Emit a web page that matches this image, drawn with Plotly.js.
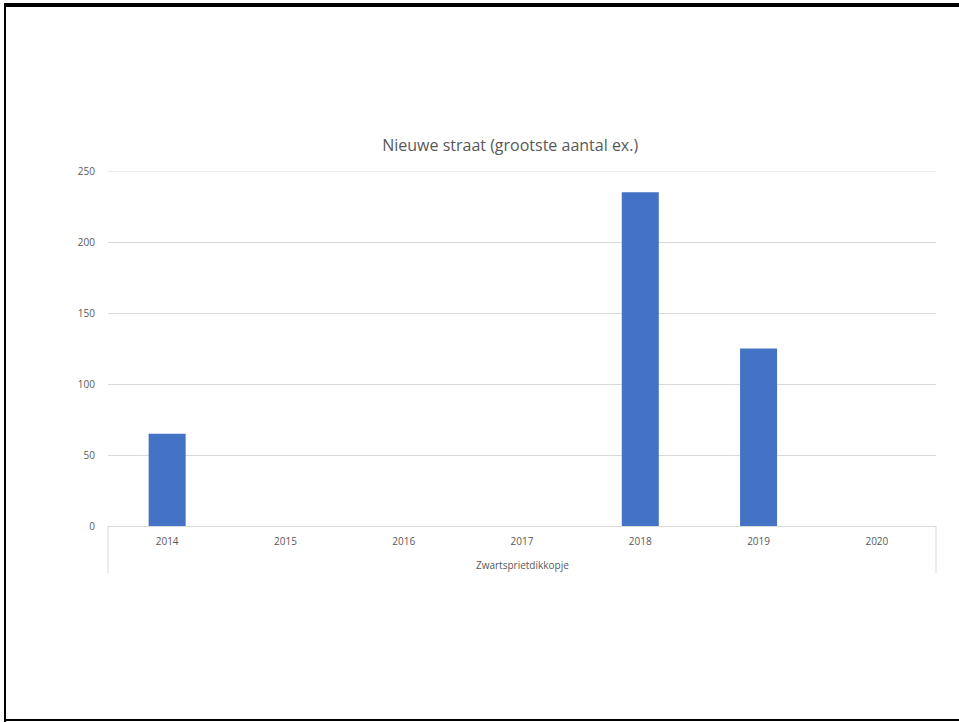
<!DOCTYPE html>
<html>
<head>
<meta charset="utf-8">
<script src="https://cdn.plot.ly/plotly-3.0.1.min.js"></script>
<style>
html,body{margin:0;padding:0;background:#fff;}
#wrap{position:relative;width:959px;height:722px;overflow:hidden;}
#chart{position:absolute;left:0;top:0;width:959px;height:722px;}
.b{position:absolute;background:#000;}
</style>
</head>
<body>
<div id="wrap">
<div id="chart"></div>
<div class="b" style="left:4px;top:3px;width:955px;height:4px;"></div>
<div class="b" style="left:4px;top:3px;width:2px;height:719px;"></div>
<div class="b" style="left:4px;top:719px;width:955px;height:2px;"></div>
</div>
<script>
var groupName = "Zwartsprietdikkopje";
var years = ["2014", "2015", "2016", "2017", "2018", "2019", "2020"];
var counts = [65, null, null, null, 235, 125, null];
var chartTitle = "Nieuwe straat (grootste aantal ex.)";
var yTicks = [0, 50, 100, 150, 200, 250];

var fontFam = '"Open Sans", "Liberation Sans", sans-serif';
var txtCol = '#595959';
var lineCol = '#d9d9d9';

var trace = {
  type: 'bar',
  x: years,
  y: counts,
  marker: {color: '#4472C4', line: {width: 0}},
  hoverinfo: 'x+y'
};

var plotH = 722 - 171 - 196;
var divBottom = -(573 - 526) / plotH;
var groupY = -(565 - 526) / plotH;

var layout = {
  width: 959, height: 722,
  paper_bgcolor: 'rgba(0,0,0,0)', plot_bgcolor: '#fff',
  margin: {l: 108, r: 23, t: 171, b: 196},
  font: {family: fontFam, color: txtCol, size: 10},
  title: {text: chartTitle, font: {family: fontFam, size: 16, color: txtCol},
          x: 0.532, xref: 'container', xanchor: 'center', y: 0.799, yref: 'container', yanchor: 'middle'},
  bargap: 0.687,
  showlegend: false,
  xaxis: {
    type: 'category',
    showgrid: false,
    showline: true, linecolor: lineCol, linewidth: 1,
    ticks: 'outside', ticklen: 6, tickcolor: 'rgba(0,0,0,0)',
    tickfont: {size: 10, color: txtCol},
    zeroline: false
  },
  yaxis: {
    range: [0, 250],
    tickvals: yTicks,
    showgrid: true, gridcolor: lineCol, gridwidth: 1,
    zeroline: false, showline: false,
    ticks: 'outside', ticklen: 10, tickcolor: 'rgba(0,0,0,0)',
    tickfont: {size: 10, color: txtCol}
  },
  shapes: [
    {type: 'line', xref: 'paper', yref: 'paper', x0: 0, x1: 0, y0: 0, y1: divBottom, line: {color: lineCol, width: 1}},
    {type: 'line', xref: 'paper', yref: 'paper', x0: 1, x1: 1, y0: 0, y1: divBottom, line: {color: lineCol, width: 1}},
    {type: 'line', xref: 'paper', yref: 'y', x0: 0, x1: 1, y0: yTicks[yTicks.length - 1], y1: yTicks[yTicks.length - 1], line: {color: lineCol, width: 1}, layer: 'below'}
  ],
  annotations: [
    {text: groupName, xref: 'paper', yref: 'paper', x: 0.5, y: groupY, xanchor: 'center', yanchor: 'middle',
     showarrow: false, font: {size: 10, color: txtCol}}
  ]
};

Plotly.newPlot('chart', [trace], layout, {displayModeBar: false, staticPlot: true});
</script>
</body>
</html>
